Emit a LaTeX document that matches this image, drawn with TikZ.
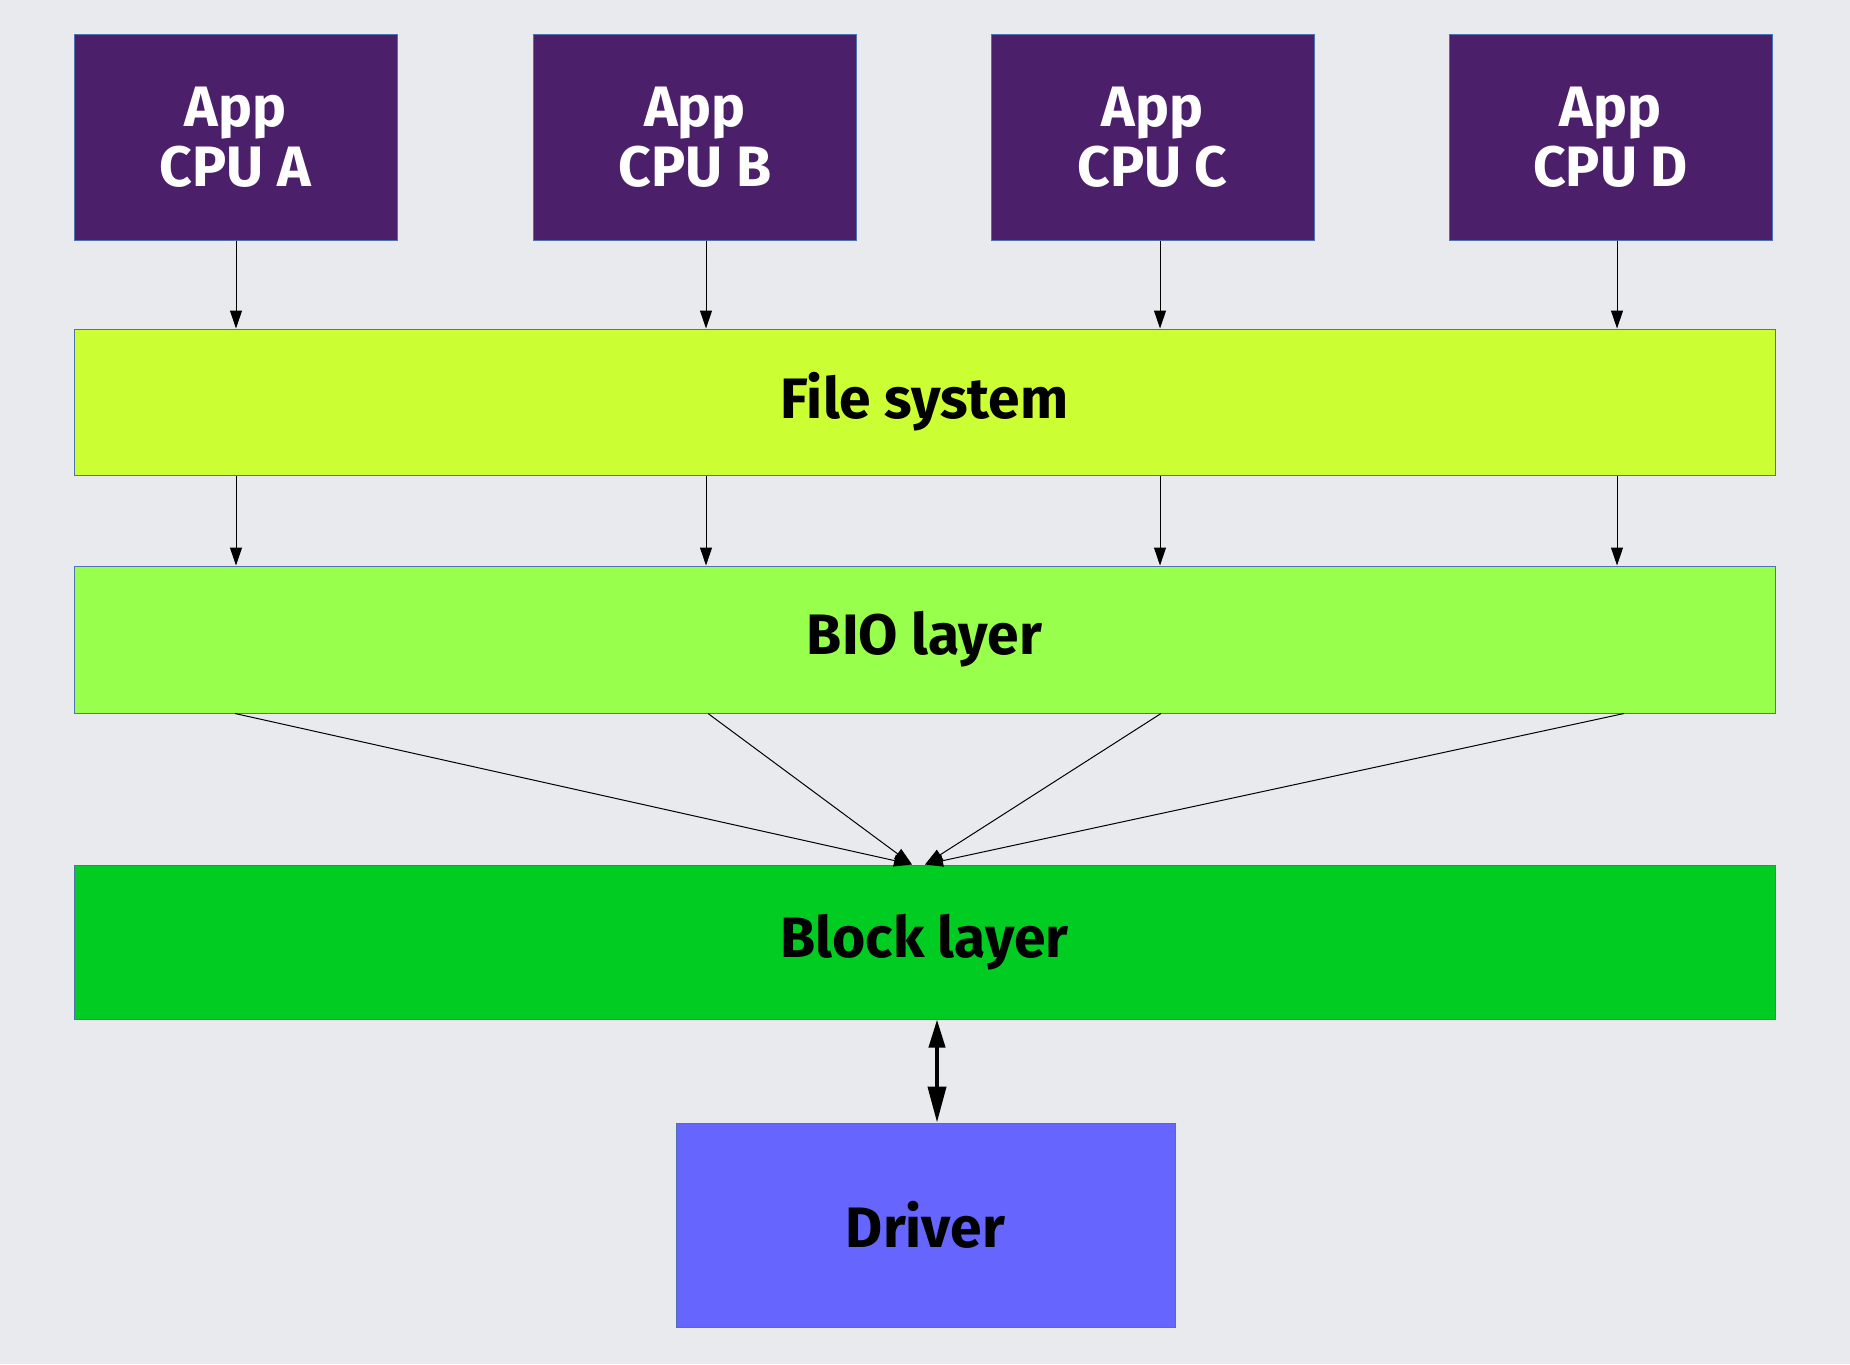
\documentclass[tikz,border=0pt]{standalone}
\usepackage{fontspec}
\setmainfont{Fira Sans}
\usetikzlibrary{arrows.meta, calc}
\definecolor{bgray}{HTML}{E8EAEE}
\definecolor{apppurple}{HTML}{4B1F6A}
\definecolor{fslime}{HTML}{CCFF33}
\definecolor{biogreen}{HTML}{99FF4D}
\definecolor{blockgreen}{HTML}{00CC22}
\definecolor{drvblue}{HTML}{6666FF}
\definecolor{edgeblue}{HTML}{4E72B0}

\tikzset{
    layer/.style={draw=edgeblue, line width=0.5pt, inner sep=0pt, align=center,
        font=\fontsize{28.5}{30}\selectfont\bfseries},
    flow/.style={draw=black, line width=0.5pt, -{Triangle[length=9pt, width=6pt]}},
}

\begin{document}
\begin{tikzpicture}[x=0.5pt, y=-0.5pt]
        \fill [bgray] (0, 0) rectangle (1850, 1364);
        \useasboundingbox (0, 0) rectangle (1850, 1364);
        \begin{scope}
            \node [layer, fill=apppurple, text=white, minimum width=161.5pt, minimum height=102.5pt] (AppA) at (235.5, 137.5) {App\\CPU A};
            \node [layer, fill=apppurple, text=white, minimum width=161.5pt, minimum height=102.5pt] (AppB) at (695, 137.5) {App\\CPU B};
            \node [layer, fill=apppurple, text=white, minimum width=161.5pt, minimum height=102.5pt] (AppC) at (1152.5, 137.5) {App\\CPU C};
            \node [layer, fill=apppurple, text=white, minimum width=161.5pt, minimum height=102.5pt] (AppD) at (1610.5, 137.5) {App\\CPU D};

            \node [layer, fill=fslime, minimum width=850.5pt, minimum height=73pt] (FS) at (924.5, 402) {File system};
            \node [layer, fill=biogreen, minimum width=850.5pt, minimum height=73.5pt] (BIO) at (924.5, 639.5) {BIO layer};
            \node [layer, fill=blockgreen, minimum width=850.5pt, minimum height=77pt] (Block) at (924.5, 942) {Block layer};
            \node [layer, fill=drvblue, minimum width=249.5pt, minimum height=102pt] (Driver) at (925.5, 1225) {Driver};

            \draw [flow] ([xshift=0.25pt]AppA.south) -- ([xshift=0.25pt]AppA.south |- FS.north);
            \draw [flow] ([xshift=5.5pt]AppB.south) -- ([xshift=5.5pt]AppB.south |- FS.north);
            \draw [flow] ([xshift=3.75pt]AppC.south) -- ([xshift=3.75pt]AppC.south |- FS.north);
            \draw [flow] ([xshift=3.25pt]AppD.south) -- ([xshift=3.25pt]AppD.south |- FS.north);

            \draw [flow] ([xshift=0.25pt]AppA.south |- FS.south) -- ([xshift=0.25pt]AppA.south |- BIO.north);
            \draw [flow] ([xshift=5.5pt]AppB.south |- FS.south) -- ([xshift=5.5pt]AppB.south |- BIO.north);
            \draw [flow] ([xshift=3.75pt]AppC.south |- FS.south) -- ([xshift=3.75pt]AppC.south |- BIO.north);
            \draw [flow] ([xshift=3.25pt]AppD.south |- FS.south) -- ([xshift=3.25pt]AppD.south |- BIO.north);

            \draw [flow] ([xshift=-0.25pt]AppA.south |- BIO.south) -- ([xshift=-6.25pt]Block.north);
            \draw [flow] ([xshift=6.5pt]AppB.south |- BIO.south) -- ([xshift=-6.25pt]Block.north);
            \draw [flow] ([xshift=4.25pt]AppC.south |- BIO.south) -- ([xshift=0.25pt]Block.north);
            \draw [flow] ([xshift=6.75pt]AppD.south |- BIO.south) -- ([xshift=0.25pt]Block.north);

            \draw [line width=2pt, {Triangle[length=14pt, width=8pt]}-{Triangle[length=18pt, width=9pt]}] ([xshift=6.25pt]Block.south) -- ([xshift=5.75pt]Driver.north);
        \end{scope}
    \end{tikzpicture}
\end{document}
